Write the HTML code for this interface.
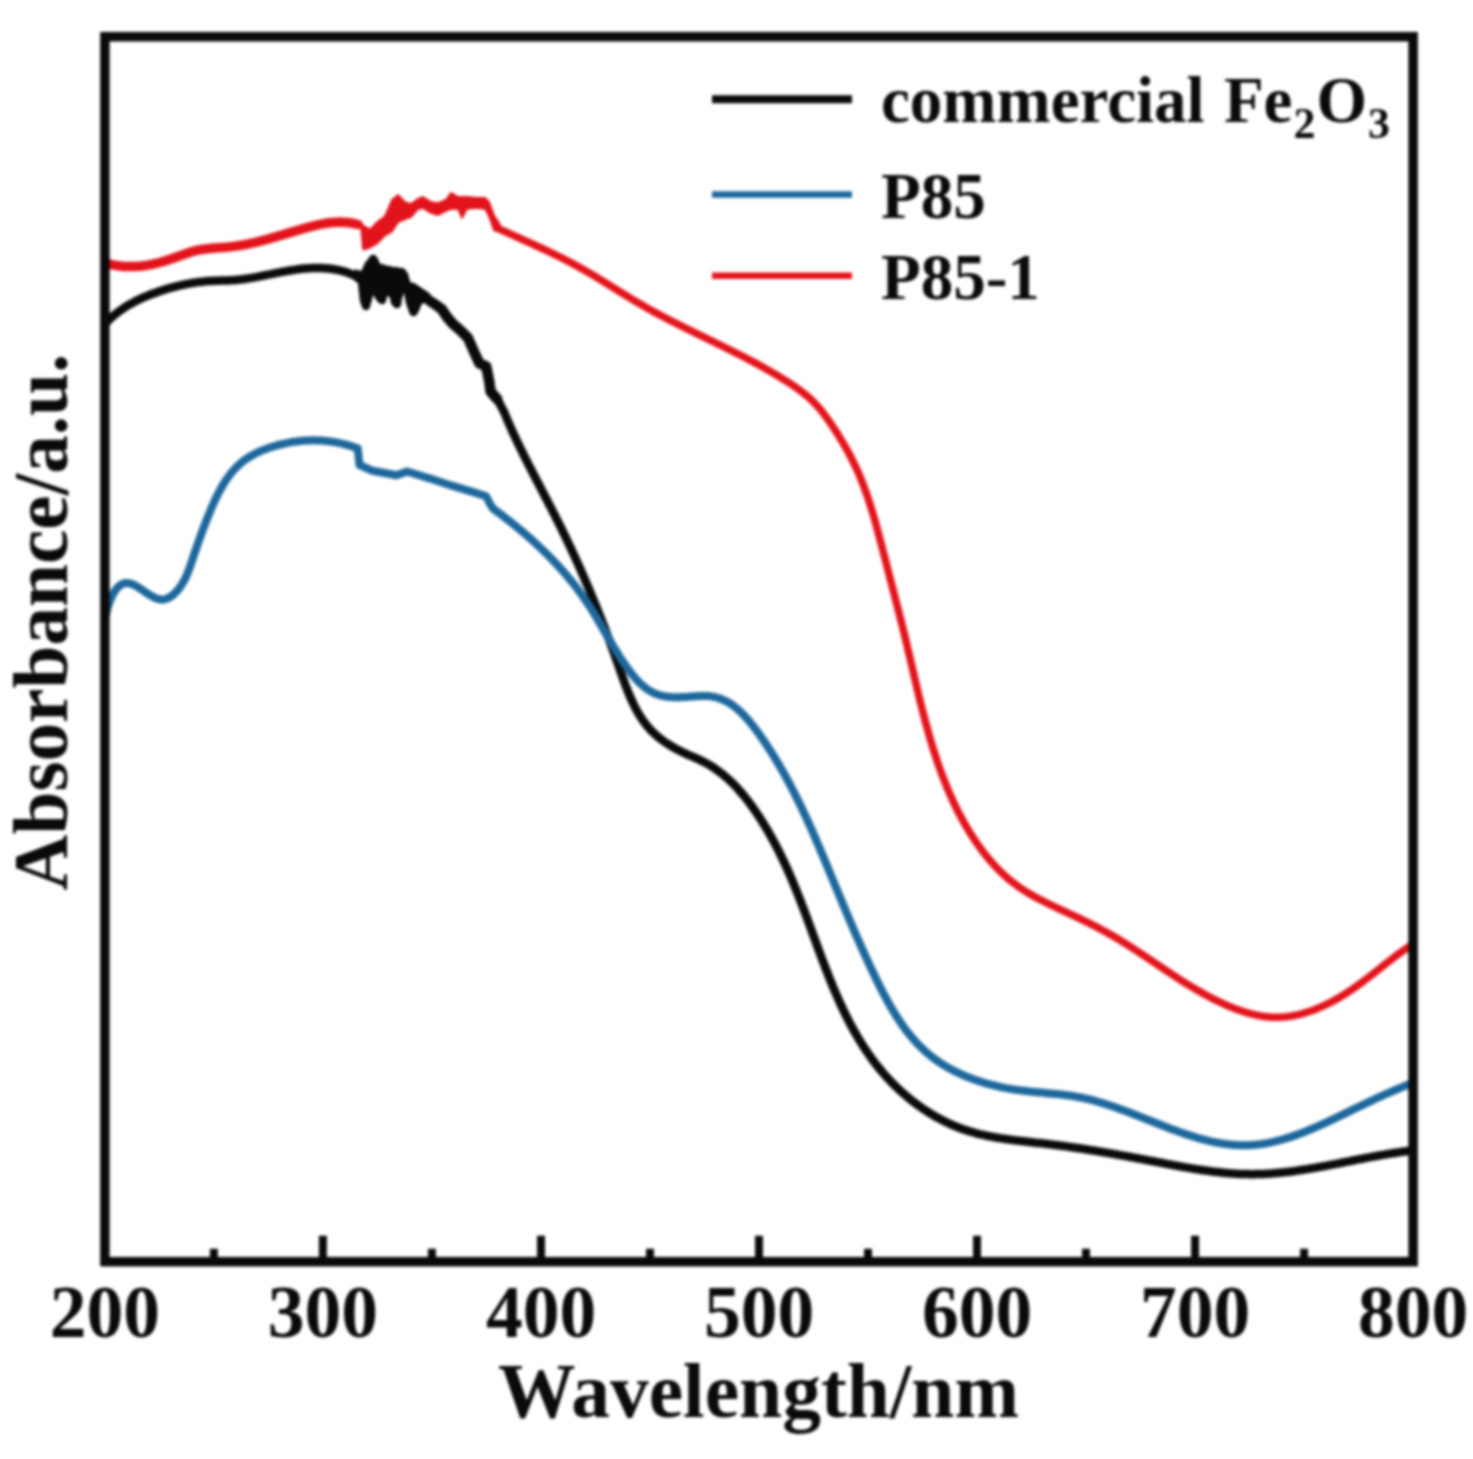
<!DOCTYPE html>
<html><head><meta charset="utf-8"><style>
html,body{margin:0;padding:0;background:#fff;overflow:hidden;}
svg{display:block;}
#w{filter:blur(1.8px);}
text,tspan{font-family:"Liberation Serif",serif;font-weight:bold;fill:#0a0a0a;}
</style></head><body><div id="w">
<svg width="1473" height="1459" viewBox="0 0 1473 1459">
<rect x="0" y="0" width="1473" height="1459" fill="#fff"/>
<g fill="none" stroke-linejoin="round" stroke-linecap="round">
<path d="M355.0,270.5L362.0,272.0L366.0,263.0L370.0,258.0L375.0,258.0L378.0,264.0L385.0,266.0L390.0,268.0L396.0,268.0L400.0,269.0L404.0,276.0L408.0,283.0L414.0,284.0L420.0,288.0L426.0,292.0L430.0,295.0L430.0,303.0L426.0,302.0L421.0,303.0L418.0,310.0L413.0,311.0L409.0,302.0L404.0,290.0L401.0,298.0L397.0,304.0L393.0,302.0L390.0,296.0L386.0,294.0L383.0,300.0L380.0,301.0L376.0,298.0L373.0,292.0L370.0,303.0L366.0,305.0L363.0,300.0L361.0,283.0L355.0,277.0Z" fill="#0a0a0a" stroke="#0a0a0a" stroke-width="2"/>
<path d="M105.5,323.5L106.9,322.0L108.3,320.5L109.8,319.1L111.3,317.7L112.8,316.4L114.3,315.0L115.9,313.8L117.5,312.5L119.1,311.3L120.7,310.1L122.4,309.0L124.0,307.9L125.7,306.8L127.5,305.7L129.2,304.7L130.9,303.7L132.7,302.7L134.5,301.8L136.3,300.8L138.1,299.9L139.9,299.1L141.8,298.2L143.6,297.4L145.5,296.6L147.4,295.8L149.3,295.0L151.2,294.3L153.1,293.6L155.0,292.9L156.9,292.2L158.8,291.5L160.7,290.9L162.7,290.2L164.6,289.6L166.6,289.0L168.5,288.4L170.5,287.9L172.4,287.3L174.4,286.8L176.3,286.3L178.3,285.8L180.3,285.4L182.3,284.9L184.3,284.5L186.2,284.1L188.2,283.7L190.2,283.4L192.2,283.0L194.2,282.7L196.2,282.4L198.2,282.1L200.2,281.9L202.2,281.7L204.2,281.5L206.2,281.3L208.2,281.1L210.2,281.0L212.2,280.9L214.2,280.8L216.2,280.7L218.2,280.7L220.2,280.6L222.2,280.6L224.2,280.5L226.2,280.5L228.2,280.4L230.2,280.3L232.2,280.2L234.2,280.1L236.2,279.9L238.2,279.7L240.2,279.5L242.2,279.3L244.2,279.0L246.1,278.7L248.1,278.4L250.1,278.1L252.1,277.8L254.1,277.4L256.1,277.1L258.1,276.7L260.0,276.3L262.0,275.9L264.0,275.5L266.0,275.1L268.0,274.7L270.0,274.3L272.0,273.9L274.0,273.5L275.9,273.1L277.9,272.7L279.9,272.3L281.9,271.9L283.9,271.5L285.9,271.2L287.9,270.8L289.9,270.5L291.9,270.2L293.9,269.9L295.9,269.6L297.9,269.3L299.9,269.0L302.0,268.8L304.0,268.6L306.0,268.4L308.0,268.3L310.0,268.2L312.1,268.1L314.1,268.0L316.1,268.0L318.1,268.0L320.1,268.0L322.2,268.1L324.2,268.2L326.2,268.3L328.2,268.5L330.1,268.7L332.1,269.0L334.1,269.3L336.0,269.6L337.9,270.0L339.8,270.4L341.7,270.8L343.6,271.3L345.5,271.9L347.3,272.5L349.1,273.2L350.8,273.9L352.6,274.7L354.3,275.5L354.3,275.0L358.0,278.0L362.0,281.0L364.0,300.0L366.0,306.0L368.0,296.0L371.0,270.0L373.0,259.0L375.0,262.0L377.0,285.0L380.0,298.0L382.0,300.0L384.0,290.0L386.0,272.0L389.0,270.0L392.0,285.0L395.0,302.0L397.0,304.0L399.0,290.0L401.5,272.0L404.0,275.0L407.0,286.0L410.0,302.0L413.5,312.0L416.0,307.0L419.0,293.0L424.0,295.0L430.0,301.0L436.0,305.0L441.6,309.0L447.0,317.0L453.0,324.0L460.0,330.0L468.0,338.0L473.7,351.0L479.5,363.5L486.2,366.3L489.1,380.7L490.6,391.5L497.3,399.2L504.0,411.7L504.0,411.7L504.7,413.5L505.5,415.4L506.3,417.2L507.0,419.0L507.8,420.9L508.6,422.7L509.4,424.5L510.2,426.4L511.0,428.2L511.8,430.0L512.6,431.8L513.5,433.6L514.3,435.5L515.2,437.3L516.0,439.1L516.9,440.9L517.7,442.7L518.6,444.5L519.5,446.3L520.3,448.1L521.2,449.9L522.1,451.7L523.0,453.5L523.9,455.3L524.8,457.1L525.7,458.9L526.6,460.7L527.5,462.5L528.4,464.3L529.3,466.1L530.3,467.9L531.2,469.7L532.1,471.5L533.0,473.3L533.9,475.1L534.9,476.9L535.8,478.7L536.7,480.4L537.7,482.2L538.6,484.0L539.5,485.8L540.5,487.6L541.4,489.4L542.3,491.2L543.2,492.9L544.2,494.7L545.1,496.5L546.0,498.3L547.0,500.1L547.9,501.9L548.8,503.7L549.7,505.4L550.7,507.2L551.6,509.0L552.5,510.8L553.4,512.6L554.3,514.4L555.2,516.2L556.1,518.0L557.0,519.7L557.9,521.5L558.8,523.3L559.7,525.1L560.6,526.9L561.5,528.7L562.3,530.5L563.2,532.3L564.1,534.1L565.0,535.9L565.8,537.7L566.7,539.5L567.5,541.3L568.4,543.1L569.2,544.9L570.1,546.7L570.9,548.5L571.8,550.3L572.6,552.1L573.4,553.9L574.3,555.7L575.1,557.5L575.9,559.3L576.7,561.1L577.6,562.9L578.4,564.7L579.2,566.5L580.0,568.3L580.8,570.2L581.6,572.0L582.4,573.8L583.2,575.6L584.0,577.4L584.8,579.3L585.6,581.1L586.3,582.9L587.1,584.7L587.9,586.6L588.7,588.4L589.5,590.2L590.2,592.1L591.0,593.9L591.8,595.8L592.5,597.6L593.3,599.4L594.0,601.3L594.8,603.1L595.5,605.0L596.3,606.8L597.0,608.7L597.8,610.5L598.5,612.4L599.3,614.3L600.0,616.1L600.7,618.0L601.5,619.8L602.2,621.7L602.9,623.6L603.7,625.5L604.4,627.3L605.1,629.2L605.8,631.1L606.5,633.0L607.2,634.9L608.0,636.7L608.7,638.6L609.4,640.5L610.1,642.4L610.8,644.3L611.5,646.2L612.2,648.1L612.9,650.0L613.6,651.9L614.3,653.8L615.0,655.8L615.6,657.7L616.3,659.6L617.0,661.5L617.7,663.4L618.4,665.4L619.1,667.3L619.8,669.2L620.4,671.2L621.1,673.1L621.8,675.0L622.5,677.0L623.2,678.9L623.9,680.8L624.6,682.8L625.3,684.7L626.0,686.6L626.8,688.5L627.5,690.4L628.3,692.3L629.0,694.1L629.8,696.0L630.6,697.8L631.4,699.7L632.3,701.5L633.1,703.3L634.0,705.1L634.9,706.9L635.8,708.6L636.7,710.4L637.7,712.1L638.7,713.8L639.7,715.5L640.8,717.1L641.8,718.8L642.9,720.4L644.1,722.0L645.2,723.5L646.4,725.0L647.6,726.5L648.9,728.0L650.2,729.5L651.5,730.9L652.9,732.2L654.3,733.6L655.8,734.9L657.3,736.2L658.8,737.5L660.3,738.7L661.9,739.9L663.5,741.1L665.1,742.2L666.8,743.3L668.5,744.4L670.2,745.5L671.9,746.5L673.6,747.5L675.4,748.5L677.2,749.5L679.0,750.4L680.8,751.3L682.6,752.2L684.5,753.1L686.3,753.9L688.2,754.8L690.1,755.6L692.0,756.4L693.8,757.2L695.7,758.1L697.6,758.9L699.4,759.7L701.2,760.6L703.0,761.5L704.8,762.4L706.6,763.4L708.3,764.4L710.0,765.4L711.7,766.4L713.4,767.5L715.0,768.6L716.6,769.8L718.2,770.9L719.8,772.1L721.4,773.3L722.9,774.5L724.4,775.8L725.9,777.1L727.4,778.4L728.9,779.7L730.3,781.1L731.7,782.4L733.2,783.8L734.5,785.2L735.9,786.7L737.3,788.1L738.6,789.6L739.9,791.1L741.2,792.6L742.5,794.1L743.8,795.6L745.0,797.1L746.3,798.7L747.5,800.3L748.7,801.9L749.9,803.5L751.1,805.1L752.3,806.7L753.4,808.3L754.6,810.0L755.7,811.6L756.8,813.3L757.9,814.9L759.0,816.6L760.1,818.3L761.2,820.0L762.2,821.7L763.3,823.4L764.3,825.1L765.4,826.8L766.4,828.5L767.4,830.2L768.4,831.9L769.4,833.7L770.4,835.4L771.3,837.1L772.3,838.9L773.3,840.6L774.2,842.4L775.1,844.1L776.1,845.9L777.0,847.7L777.9,849.4L778.8,851.2L779.7,853.0L780.6,854.8L781.4,856.6L782.3,858.4L783.2,860.2L784.0,862.0L784.9,863.8L785.7,865.6L786.5,867.4L787.4,869.3L788.2,871.1L789.0,872.9L789.8,874.8L790.6,876.6L791.4,878.4L792.2,880.3L792.9,882.1L793.7,884.0L794.5,885.9L795.2,887.7L796.0,889.6L796.8,891.5L797.5,893.3L798.3,895.2L799.0,897.1L799.7,899.0L800.5,900.8L801.2,902.7L801.9,904.6L802.6,906.5L803.4,908.4L804.1,910.3L804.8,912.2L805.5,914.1L806.2,916.0L806.9,917.8L807.6,919.7L808.3,921.6L809.0,923.5L809.7,925.4L810.4,927.3L811.1,929.2L811.8,931.2L812.5,933.1L813.2,935.0L813.9,936.9L814.6,938.8L815.3,940.7L816.0,942.6L816.7,944.5L817.4,946.4L818.1,948.3L818.8,950.2L819.5,952.1L820.2,954.0L820.9,955.8L821.6,957.7L822.3,959.6L823.0,961.5L823.8,963.4L824.5,965.3L825.2,967.2L825.9,969.1L826.7,970.9L827.4,972.8L828.1,974.7L828.9,976.6L829.6,978.4L830.4,980.3L831.1,982.2L831.9,984.0L832.6,985.9L833.4,987.7L834.2,989.6L835.0,991.4L835.8,993.3L836.6,995.1L837.4,996.9L838.2,998.8L839.0,1000.6L839.8,1002.4L840.6,1004.2L841.5,1006.0L842.3,1007.8L843.1,1009.6L844.0,1011.4L844.9,1013.2L845.7,1015.0L846.6,1016.8L847.5,1018.5L848.4,1020.3L849.3,1022.1L850.2,1023.8L851.2,1025.6L852.1,1027.3L853.1,1029.0L854.0,1030.8L855.0,1032.5L856.0,1034.2L857.0,1035.9L858.0,1037.6L859.0,1039.3L860.0,1041.0L861.0,1042.7L862.1,1044.3L863.1,1046.0L864.2,1047.7L865.3,1049.3L866.4,1051.0L867.5,1052.6L868.6,1054.2L869.7,1055.8L870.9,1057.4L872.0,1059.0L873.2,1060.6L874.4,1062.2L875.6,1063.8L876.8,1065.3L878.0,1066.9L879.3,1068.4L880.6,1069.9L881.8,1071.5L883.1,1073.0L884.4,1074.5L885.7,1076.0L887.1,1077.4L888.4,1078.9L889.8,1080.4L891.2,1081.8L892.6,1083.3L894.0,1084.7L895.4,1086.1L896.9,1087.5L898.4,1088.9L899.8,1090.3L901.3,1091.6L902.8,1093.0L904.4,1094.3L905.9,1095.6L907.5,1097.0L909.0,1098.3L910.6,1099.5L912.2,1100.8L913.8,1102.0L915.4,1103.3L917.1,1104.5L918.7,1105.7L920.4,1106.9L922.0,1108.0L923.7,1109.2L925.4,1110.3L927.1,1111.4L928.8,1112.5L930.6,1113.6L932.3,1114.6L934.0,1115.7L935.8,1116.7L937.6,1117.7L939.3,1118.6L941.1,1119.6L942.9,1120.5L944.7,1121.4L946.5,1122.3L948.3,1123.2L950.2,1124.0L952.0,1124.8L953.9,1125.6L955.7,1126.4L957.6,1127.1L959.4,1127.9L961.3,1128.6L963.2,1129.2L965.1,1129.9L967.0,1130.5L968.9,1131.1L970.8,1131.7L972.7,1132.2L974.6,1132.8L976.5,1133.3L978.5,1133.8L980.4,1134.3L982.3,1134.7L984.3,1135.2L986.2,1135.6L988.2,1136.0L990.1,1136.4L992.1,1136.8L994.0,1137.1L996.0,1137.5L998.0,1137.8L999.9,1138.1L1001.9,1138.4L1003.9,1138.8L1005.9,1139.0L1007.9,1139.3L1009.8,1139.6L1011.8,1139.9L1013.8,1140.1L1015.8,1140.4L1017.8,1140.6L1019.8,1140.9L1021.8,1141.1L1023.8,1141.3L1025.8,1141.6L1027.8,1141.8L1029.8,1142.0L1031.8,1142.2L1033.8,1142.5L1035.8,1142.7L1037.8,1142.9L1039.8,1143.1L1041.8,1143.3L1043.8,1143.6L1045.8,1143.8L1047.8,1144.0L1049.8,1144.3L1051.7,1144.5L1053.7,1144.8L1055.7,1145.0L1057.7,1145.3L1059.7,1145.5L1061.7,1145.8L1063.7,1146.1L1065.6,1146.3L1067.6,1146.6L1069.6,1146.9L1071.6,1147.2L1073.6,1147.5L1075.6,1147.7L1077.5,1148.0L1079.5,1148.3L1081.5,1148.6L1083.5,1148.9L1085.4,1149.2L1087.4,1149.5L1089.4,1149.9L1091.4,1150.2L1093.3,1150.5L1095.3,1150.8L1097.3,1151.1L1099.2,1151.5L1101.2,1151.8L1103.2,1152.1L1105.1,1152.5L1107.1,1152.8L1109.1,1153.1L1111.1,1153.5L1113.0,1153.8L1115.0,1154.2L1117.0,1154.5L1118.9,1154.9L1120.9,1155.2L1122.9,1155.6L1124.8,1155.9L1126.8,1156.3L1128.8,1156.6L1130.7,1157.0L1132.7,1157.4L1134.7,1157.7L1136.6,1158.1L1138.6,1158.5L1140.6,1158.9L1142.6,1159.2L1144.5,1159.6L1146.5,1160.0L1148.5,1160.4L1150.4,1160.7L1152.4,1161.1L1154.4,1161.5L1156.4,1161.9L1158.3,1162.3L1160.3,1162.6L1162.3,1163.0L1164.2,1163.4L1166.2,1163.8L1168.2,1164.2L1170.2,1164.5L1172.1,1164.9L1174.1,1165.3L1176.1,1165.6L1178.1,1166.0L1180.1,1166.4L1182.0,1166.7L1184.0,1167.1L1186.0,1167.4L1188.0,1167.8L1190.0,1168.1L1191.9,1168.4L1193.9,1168.8L1195.9,1169.1L1197.9,1169.4L1199.9,1169.7L1201.8,1170.0L1203.8,1170.3L1205.8,1170.6L1207.8,1170.8L1209.8,1171.1L1211.7,1171.4L1213.7,1171.6L1215.7,1171.9L1217.7,1172.1L1219.7,1172.3L1221.7,1172.5L1223.7,1172.7L1225.6,1172.9L1227.6,1173.1L1229.6,1173.2L1231.6,1173.4L1233.6,1173.5L1235.6,1173.7L1237.6,1173.8L1239.5,1173.9L1241.5,1174.0L1243.5,1174.0L1245.5,1174.1L1247.5,1174.1L1249.5,1174.2L1251.5,1174.2L1253.5,1174.2L1255.5,1174.1L1257.4,1174.1L1259.4,1174.1L1261.4,1174.0L1263.4,1173.9L1265.4,1173.8L1267.4,1173.7L1269.4,1173.6L1271.4,1173.4L1273.4,1173.3L1275.4,1173.1L1277.3,1173.0L1279.3,1172.8L1281.3,1172.6L1283.3,1172.4L1285.3,1172.1L1287.3,1171.9L1289.3,1171.7L1291.3,1171.4L1293.3,1171.2L1295.3,1170.9L1297.3,1170.6L1299.2,1170.3L1301.2,1170.0L1303.2,1169.7L1305.2,1169.4L1307.2,1169.1L1309.2,1168.8L1311.2,1168.4L1313.2,1168.1L1315.2,1167.8L1317.1,1167.4L1319.1,1167.0L1321.1,1166.7L1323.1,1166.3L1325.1,1166.0L1327.1,1165.6L1329.1,1165.2L1331.1,1164.8L1333.0,1164.4L1335.0,1164.1L1337.0,1163.7L1339.0,1163.3L1341.0,1162.9L1343.0,1162.5L1344.9,1162.1L1346.9,1161.7L1348.9,1161.3L1350.9,1160.9L1352.9,1160.5L1354.8,1160.1L1356.8,1159.7L1358.8,1159.3L1360.8,1159.0L1362.8,1158.6L1364.7,1158.2L1366.7,1157.8L1368.7,1157.4L1370.7,1157.1L1372.6,1156.7L1374.6,1156.3L1376.6,1156.0L1378.6,1155.6L1380.5,1155.2L1382.5,1154.9L1384.5,1154.6L1386.4,1154.2L1388.4,1153.9L1390.4,1153.6L1392.3,1153.3L1394.3,1153.0L1396.3,1152.7L1398.2,1152.4L1400.2,1152.1L1402.2,1151.8L1404.1,1151.5L1406.1,1151.3L1408.0,1151.0L1410.0,1150.8" stroke="#0a0a0a" stroke-width="8.5"/>
<path d="M430.0,301.0L436.0,305.0L441.6,309.0L447.0,317.0L453.0,324.0L460.0,330.0L468.0,338.0L473.7,351.0L479.5,363.5L486.2,366.3L489.1,380.7L490.6,391.5L497.3,399.2" stroke="#0a0a0a" stroke-width="10.5"/>
<path d="M106.0,614.6L106.4,612.9L106.8,611.1L107.3,609.2L107.9,607.2L108.5,605.1L109.2,603.0L110.0,600.9L110.9,598.7L111.8,596.7L112.8,594.6L113.9,592.7L115.0,590.9L116.2,589.2L117.5,587.7L118.8,586.3L120.2,585.2L121.7,584.3L123.2,583.6L124.7,583.2L126.3,583.0L128.0,583.1L129.6,583.4L131.3,583.9L133.1,584.5L134.8,585.4L136.6,586.3L138.4,587.4L140.2,588.6L142.0,589.8L143.8,591.0L145.6,592.3L147.4,593.5L149.3,594.7L151.1,595.8L152.9,596.8L154.7,597.7L156.6,598.4L158.3,599.0L160.1,599.4L161.9,599.5L163.7,599.4L165.4,599.1L167.1,598.5L168.7,597.8L170.4,596.8L172.0,595.7L173.5,594.4L175.0,593.0L176.5,591.5L177.9,589.9L179.3,588.2L180.5,586.4L181.8,584.5L182.9,582.6L184.0,580.7L185.0,578.8L186.0,576.9L186.8,575.0L187.6,573.1L188.4,571.1L189.1,569.2L189.8,567.3L190.5,565.4L191.1,563.5L191.8,561.6L192.4,559.7L193.0,557.8L193.6,555.9L194.3,554.0L194.9,552.2L195.6,550.3L196.2,548.4L196.9,546.5L197.5,544.6L198.2,542.7L198.8,540.9L199.5,539.0L200.2,537.1L200.9,535.3L201.6,533.4L202.2,531.5L202.9,529.6L203.6,527.8L204.4,525.9L205.1,524.0L205.8,522.1L206.5,520.2L207.3,518.4L208.0,516.5L208.8,514.6L209.6,512.7L210.3,510.8L211.1,508.9L211.9,507.0L212.8,505.2L213.6,503.3L214.4,501.4L215.3,499.5L216.2,497.7L217.1,495.9L218.0,494.0L218.9,492.2L219.9,490.4L220.8,488.6L221.8,486.9L222.9,485.1L223.9,483.4L225.0,481.7L226.1,480.0L227.2,478.4L228.4,476.7L229.6,475.1L230.8,473.6L232.1,472.0L233.4,470.5L234.7,469.0L236.1,467.6L237.5,466.2L238.9,464.8L240.4,463.5L241.9,462.2L243.4,461.0L245.0,459.8L246.7,458.7L248.3,457.6L250.1,456.5L251.8,455.5L253.6,454.5L255.4,453.5L257.2,452.6L259.1,451.8L260.9,450.9L262.8,450.1L264.7,449.4L266.7,448.7L268.6,448.0L270.6,447.3L272.5,446.7L274.5,446.1L276.5,445.5L278.5,445.0L280.5,444.5L282.5,444.0L284.5,443.6L286.5,443.1L288.4,442.7L290.4,442.4L292.4,442.0L294.4,441.7L296.4,441.5L298.4,441.2L300.4,441.0L302.3,440.8L304.3,440.7L306.3,440.5L308.3,440.4L310.3,440.4L312.2,440.3L314.2,440.3L316.2,440.4L318.2,440.4L320.2,440.5L322.1,440.6L324.1,440.8L326.1,441.0L328.1,441.2L330.1,441.4L332.0,441.7L334.0,442.0L336.0,442.4L338.0,442.8L339.9,443.2L341.9,443.6L343.9,444.1L345.9,444.6L347.8,445.2L349.8,445.7L351.8,446.4L353.8,447.0L355.7,447.7L357.7,448.4L357.7,448.4L359.5,465.0L372.6,470.8L396.5,475.3L407.0,471.5L429.4,478.3L451.8,485.7L474.2,492.4L486.1,496.2L489.5,503.0L493.0,508.6L493.0,508.6L494.6,509.8L496.2,511.0L497.8,512.1L499.4,513.3L501.0,514.5L502.6,515.7L504.2,516.9L505.7,518.2L507.3,519.4L508.9,520.6L510.5,521.9L512.0,523.1L513.6,524.4L515.2,525.6L516.7,526.9L518.3,528.2L519.8,529.5L521.3,530.8L522.9,532.0L524.4,533.4L525.9,534.7L527.4,536.0L528.9,537.3L530.5,538.6L531.9,540.0L533.4,541.3L534.9,542.7L536.4,544.0L537.9,545.4L539.3,546.8L540.8,548.2L542.3,549.6L543.7,551.0L545.1,552.4L546.6,553.8L548.0,555.2L549.4,556.6L550.8,558.1L552.2,559.5L553.6,560.9L555.0,562.4L556.3,563.9L557.7,565.3L559.1,566.8L560.4,568.3L561.7,569.8L563.1,571.3L564.4,572.8L565.7,574.3L567.0,575.8L568.3,577.4L569.5,578.9L570.8,580.4L572.1,582.0L573.3,583.6L574.5,585.1L575.8,586.7L577.0,588.3L578.2,589.9L579.4,591.5L580.5,593.1L581.7,594.7L582.8,596.3L584.0,597.9L585.1,599.6L586.2,601.2L587.3,602.9L588.4,604.5L589.5,606.2L590.6,607.9L591.6,609.5L592.7,611.2L593.7,612.9L594.8,614.6L595.8,616.3L596.8,618.0L597.8,619.7L598.8,621.5L599.8,623.2L600.8,624.9L601.8,626.6L602.8,628.4L603.8,630.1L604.8,631.8L605.8,633.6L606.8,635.3L607.8,637.0L608.8,638.8L609.9,640.5L610.9,642.2L611.9,644.0L612.9,645.7L614.0,647.5L615.0,649.2L616.1,650.9L617.2,652.7L618.2,654.4L619.3,656.1L620.4,657.8L621.6,659.6L622.7,661.3L623.9,663.0L625.0,664.7L626.2,666.4L627.4,668.1L628.6,669.8L629.9,671.4L631.1,673.1L632.4,674.7L633.7,676.3L635.1,677.9L636.4,679.4L637.8,680.9L639.2,682.4L640.7,683.8L642.1,685.1L643.6,686.4L645.1,687.6L646.7,688.8L648.3,689.9L649.9,690.9L651.6,691.9L653.3,692.8L655.0,693.5L656.8,694.2L658.6,694.8L660.4,695.4L662.3,695.8L664.2,696.2L666.1,696.5L668.0,696.8L670.0,696.9L672.0,697.1L674.0,697.2L676.1,697.2L678.1,697.2L680.2,697.2L682.2,697.1L684.3,697.0L686.4,696.9L688.5,696.8L690.6,696.6L692.7,696.5L694.8,696.3L696.9,696.2L699.0,696.1L701.0,696.0L703.1,695.9L705.1,695.9L707.1,696.0L709.0,696.1L711.0,696.4L712.9,696.7L714.7,697.0L716.6,697.5L718.4,698.0L720.2,698.6L721.9,699.3L723.6,700.1L725.3,700.9L727.0,701.7L728.6,702.7L730.2,703.7L731.8,704.7L733.3,705.8L734.8,707.0L736.3,708.2L737.8,709.4L739.3,710.7L740.7,712.1L742.1,713.4L743.5,714.9L744.9,716.3L746.2,717.8L747.6,719.3L748.9,720.8L750.2,722.4L751.5,724.0L752.7,725.6L754.0,727.2L755.2,728.8L756.5,730.5L757.7,732.1L758.9,733.8L760.1,735.5L761.2,737.2L762.4,738.8L763.6,740.5L764.7,742.2L765.9,743.9L767.0,745.6L768.1,747.3L769.2,749.0L770.3,750.7L771.4,752.4L772.5,754.2L773.6,755.9L774.6,757.6L775.7,759.3L776.7,761.1L777.8,762.8L778.8,764.6L779.8,766.3L780.8,768.0L781.9,769.8L782.8,771.5L783.8,773.3L784.8,775.1L785.8,776.8L786.8,778.6L787.7,780.4L788.7,782.1L789.6,783.9L790.6,785.7L791.5,787.5L792.4,789.3L793.3,791.0L794.2,792.8L795.1,794.6L796.0,796.4L796.9,798.2L797.8,800.0L798.7,801.8L799.6,803.6L800.5,805.4L801.3,807.2L802.2,809.0L803.0,810.8L803.9,812.7L804.7,814.5L805.6,816.3L806.4,818.1L807.2,819.9L808.1,821.7L808.9,823.6L809.7,825.4L810.5,827.2L811.3,829.0L812.2,830.9L813.0,832.7L813.8,834.5L814.6,836.4L815.4,838.2L816.1,840.0L816.9,841.9L817.7,843.7L818.5,845.5L819.3,847.4L820.1,849.2L820.8,851.1L821.6,852.9L822.4,854.7L823.2,856.6L823.9,858.4L824.7,860.3L825.5,862.1L826.2,863.9L827.0,865.8L827.8,867.6L828.5,869.5L829.3,871.3L830.0,873.2L830.8,875.0L831.6,876.8L832.3,878.7L833.1,880.5L833.9,882.4L834.6,884.2L835.4,886.0L836.1,887.9L836.9,889.7L837.7,891.6L838.4,893.4L839.2,895.2L840.0,897.1L840.7,898.9L841.5,900.8L842.3,902.6L843.0,904.4L843.8,906.3L844.6,908.1L845.3,909.9L846.1,911.8L846.9,913.6L847.7,915.5L848.4,917.3L849.2,919.1L850.0,921.0L850.8,922.8L851.6,924.6L852.4,926.5L853.1,928.3L853.9,930.1L854.7,932.0L855.5,933.8L856.3,935.6L857.1,937.5L857.9,939.3L858.8,941.1L859.6,943.0L860.4,944.8L861.2,946.7L862.0,948.5L862.8,950.3L863.7,952.2L864.5,954.0L865.3,955.8L866.2,957.7L867.0,959.5L867.8,961.3L868.7,963.2L869.5,965.0L870.4,966.8L871.3,968.7L872.1,970.5L873.0,972.3L873.9,974.2L874.7,976.0L875.6,977.8L876.5,979.7L877.4,981.5L878.3,983.3L879.2,985.2L880.1,987.0L881.0,988.8L882.0,990.6L882.9,992.4L883.8,994.2L884.8,996.0L885.8,997.8L886.7,999.6L887.7,1001.4L888.7,1003.2L889.7,1004.9L890.7,1006.7L891.7,1008.4L892.7,1010.2L893.8,1011.9L894.8,1013.6L895.9,1015.3L897.0,1017.0L898.1,1018.7L899.2,1020.4L900.3,1022.1L901.4,1023.7L902.6,1025.3L903.7,1027.0L904.9,1028.6L906.1,1030.2L907.3,1031.7L908.5,1033.3L909.8,1034.8L911.0,1036.4L912.3,1037.9L913.6,1039.4L914.9,1040.8L916.2,1042.3L917.5,1043.7L918.9,1045.2L920.3,1046.6L921.7,1047.9L923.1,1049.3L924.5,1050.6L926.0,1051.9L927.5,1053.2L929.0,1054.5L930.5,1055.7L932.0,1057.0L933.6,1058.2L935.2,1059.3L936.8,1060.5L938.4,1061.6L940.1,1062.7L941.7,1063.8L943.4,1064.9L945.1,1065.9L946.8,1066.9L948.6,1067.9L950.3,1068.9L952.1,1069.8L953.9,1070.8L955.7,1071.7L957.5,1072.5L959.3,1073.4L961.1,1074.2L963.0,1075.1L964.8,1075.9L966.7,1076.6L968.6,1077.4L970.5,1078.1L972.4,1078.9L974.3,1079.5L976.3,1080.2L978.2,1080.9L980.1,1081.5L982.1,1082.1L984.0,1082.7L986.0,1083.3L988.0,1083.9L989.9,1084.4L991.9,1084.9L993.9,1085.4L995.9,1085.9L997.9,1086.4L999.9,1086.8L1001.9,1087.3L1003.8,1087.7L1005.8,1088.1L1007.8,1088.4L1009.8,1088.8L1011.8,1089.1L1013.8,1089.5L1015.8,1089.8L1017.8,1090.1L1019.8,1090.3L1021.8,1090.6L1023.8,1090.8L1025.8,1091.1L1027.8,1091.3L1029.7,1091.5L1031.7,1091.7L1033.7,1091.9L1035.7,1092.1L1037.7,1092.3L1039.6,1092.5L1041.6,1092.6L1043.6,1092.8L1045.5,1093.0L1047.5,1093.2L1049.5,1093.4L1051.4,1093.5L1053.4,1093.7L1055.3,1093.9L1057.3,1094.1L1059.2,1094.3L1061.2,1094.5L1063.2,1094.8L1065.1,1095.0L1067.0,1095.3L1069.0,1095.5L1070.9,1095.8L1072.9,1096.1L1074.8,1096.4L1076.8,1096.8L1078.7,1097.1L1080.6,1097.5L1082.6,1097.9L1084.5,1098.3L1086.4,1098.7L1088.4,1099.2L1090.3,1099.7L1092.2,1100.2L1094.2,1100.7L1096.1,1101.2L1098.0,1101.8L1099.9,1102.3L1101.9,1102.9L1103.8,1103.5L1105.7,1104.1L1107.6,1104.7L1109.5,1105.3L1111.4,1106.0L1113.4,1106.6L1115.3,1107.3L1117.2,1108.0L1119.1,1108.7L1121.0,1109.4L1122.9,1110.1L1124.8,1110.8L1126.8,1111.5L1128.7,1112.2L1130.6,1112.9L1132.5,1113.7L1134.4,1114.4L1136.3,1115.2L1138.2,1115.9L1140.1,1116.7L1142.0,1117.4L1143.9,1118.2L1145.8,1119.0L1147.7,1119.7L1149.6,1120.5L1151.5,1121.2L1153.5,1122.0L1155.4,1122.8L1157.3,1123.5L1159.2,1124.3L1161.1,1125.0L1163.0,1125.8L1164.9,1126.5L1166.8,1127.2L1168.7,1128.0L1170.6,1128.7L1172.5,1129.4L1174.4,1130.1L1176.3,1130.8L1178.2,1131.5L1180.1,1132.2L1182.0,1132.8L1183.9,1133.5L1185.8,1134.2L1187.8,1134.8L1189.7,1135.4L1191.6,1136.0L1193.5,1136.6L1195.4,1137.2L1197.3,1137.8L1199.2,1138.3L1201.1,1138.9L1203.0,1139.4L1204.9,1139.9L1206.9,1140.4L1208.8,1140.8L1210.7,1141.3L1212.6,1141.7L1214.5,1142.1L1216.4,1142.5L1218.4,1142.8L1220.3,1143.2L1222.2,1143.5L1224.1,1143.8L1226.1,1144.1L1228.0,1144.3L1229.9,1144.5L1231.8,1144.7L1233.8,1144.9L1235.7,1145.0L1237.6,1145.1L1239.6,1145.2L1241.5,1145.3L1243.4,1145.3L1245.4,1145.3L1247.3,1145.3L1249.3,1145.2L1251.2,1145.1L1253.2,1145.0L1255.1,1144.8L1257.0,1144.6L1259.0,1144.4L1260.9,1144.1L1262.9,1143.8L1264.9,1143.5L1266.8,1143.2L1268.8,1142.8L1270.7,1142.4L1272.7,1142.0L1274.6,1141.5L1276.6,1141.0L1278.5,1140.5L1280.5,1140.0L1282.4,1139.5L1284.4,1138.9L1286.3,1138.3L1288.3,1137.7L1290.2,1137.1L1292.2,1136.4L1294.1,1135.7L1296.0,1135.1L1298.0,1134.4L1299.9,1133.6L1301.8,1132.9L1303.8,1132.2L1305.7,1131.4L1307.6,1130.6L1309.5,1129.8L1311.5,1129.0L1313.4,1128.2L1315.3,1127.4L1317.2,1126.6L1319.1,1125.7L1321.0,1124.9L1322.9,1124.0L1324.8,1123.2L1326.6,1122.3L1328.5,1121.4L1330.4,1120.5L1332.2,1119.7L1334.1,1118.8L1336.0,1117.9L1337.8,1117.0L1339.6,1116.1L1341.5,1115.2L1343.3,1114.3L1345.1,1113.4L1346.9,1112.6L1348.8,1111.7L1350.6,1110.8L1352.3,1109.9L1354.1,1109.0L1355.9,1108.2L1357.7,1107.3L1359.4,1106.5L1361.2,1105.6L1362.9,1104.8L1364.7,1103.9L1366.4,1103.1L1368.1,1102.3L1369.9,1101.5L1371.6,1100.6L1373.4,1099.8L1375.1,1099.0L1376.8,1098.2L1378.6,1097.4L1380.3,1096.6L1382.1,1095.8L1383.8,1095.0L1385.6,1094.2L1387.4,1093.4L1389.2,1092.7L1391.0,1091.9L1392.8,1091.1L1394.7,1090.3L1396.5,1089.5L1398.4,1088.7L1400.3,1087.9L1402.2,1087.1L1404.1,1086.3L1406.0,1085.5L1408.0,1084.7L1410.0,1083.9" stroke="#1d679c" stroke-width="8"/>
<path d="M358.0,222.0L361.0,222.0L363.0,225.3L370.0,229.4L377.0,222.2L385.0,216.1L392.0,199.8L398.0,194.7L405.0,201.9L411.0,203.9L418.0,198.8L423.0,196.8L431.0,201.9L438.0,202.9L446.0,199.8L451.0,192.7L458.0,196.8L462.0,196.8L467.0,196.8L477.0,197.8L485.0,197.8L489.0,201.5L494.0,215.1L500.0,224.3L500.0,231.5L494.0,230.5L489.0,216.5L485.0,209.0L477.0,208.0L467.0,209.0L462.0,218.2L458.0,209.0L451.0,209.0L446.0,211.1L438.0,215.2L431.0,213.1L423.0,208.0L418.0,209.0L411.0,217.2L405.0,219.2L398.0,222.3L392.0,231.5L385.0,235.5L377.0,243.7L370.0,247.7L363.0,249.8L361.0,227.5L358.0,227.0Z" fill="#e3131b" stroke="#e3131b" stroke-width="1.5"/>
<path d="M497.0,228.0L498.8,228.8L500.6,229.7L502.4,230.5L504.3,231.3L506.1,232.1L507.9,232.9L509.7,233.8L511.6,234.6L513.4,235.4L515.2,236.2L517.0,237.0L518.9,237.9L520.7,238.7L522.5,239.5L524.3,240.3L526.2,241.2L528.0,242.0L529.8,242.8L531.7,243.6L533.5,244.5L535.3,245.3L537.1,246.2L539.0,247.0L540.8,247.8L542.6,248.7L544.4,249.5L546.2,250.4L548.0,251.3L549.9,252.1L551.7,253.0L553.5,253.9L555.3,254.8L557.1,255.6L558.9,256.5L560.7,257.4L562.5,258.3L564.3,259.2L566.0,260.2L567.8,261.1L569.6,262.0L571.4,262.9L573.1,263.9L574.9,264.8L576.7,265.8L578.4,266.8L580.2,267.7L581.9,268.7L583.7,269.7L585.4,270.7L587.1,271.7L588.9,272.7L590.6,273.8L592.3,274.8L594.0,275.8L595.7,276.8L597.5,277.9L599.2,278.9L600.9,280.0L602.6,281.0L604.3,282.1L606.0,283.1L607.7,284.2L609.4,285.2L611.1,286.3L612.8,287.3L614.5,288.4L616.2,289.4L617.9,290.5L619.6,291.6L621.3,292.6L623.0,293.7L624.7,294.7L626.4,295.8L628.1,296.8L629.9,297.8L631.6,298.9L633.3,299.9L635.0,300.9L636.7,302.0L638.4,303.0L640.2,304.0L641.9,305.0L643.6,306.0L645.4,307.0L647.1,308.0L648.8,309.0L650.6,309.9L652.3,310.9L654.1,311.9L655.9,312.8L657.6,313.8L659.4,314.7L661.1,315.7L662.9,316.6L664.7,317.5L666.5,318.5L668.2,319.4L670.0,320.3L671.8,321.2L673.6,322.1L675.4,323.0L677.1,323.9L678.9,324.8L680.7,325.7L682.5,326.6L684.3,327.5L686.1,328.4L687.9,329.3L689.7,330.2L691.5,331.1L693.3,331.9L695.1,332.8L696.9,333.7L698.7,334.6L700.5,335.5L702.3,336.3L704.1,337.2L705.9,338.1L707.7,339.0L709.5,339.9L711.3,340.7L713.1,341.6L714.9,342.5L716.7,343.4L718.5,344.3L720.3,345.1L722.1,346.0L723.9,346.9L725.7,347.8L727.5,348.7L729.3,349.6L731.1,350.5L732.9,351.4L734.7,352.3L736.5,353.2L738.2,354.1L740.0,355.0L741.8,355.9L743.6,356.8L745.4,357.7L747.2,358.7L748.9,359.6L750.7,360.5L752.5,361.5L754.2,362.4L756.0,363.4L757.8,364.3L759.5,365.3L761.3,366.2L763.0,367.2L764.8,368.2L766.5,369.2L768.3,370.2L770.0,371.2L771.7,372.2L773.5,373.2L775.2,374.2L776.9,375.2L778.6,376.3L780.3,377.3L782.0,378.4L783.7,379.4L785.4,380.5L787.1,381.6L788.8,382.6L790.5,383.7L792.2,384.9L793.8,386.0L795.5,387.1L797.1,388.3L798.7,389.5L800.3,390.6L801.9,391.9L803.5,393.1L805.0,394.3L806.5,395.6L808.0,396.9L809.5,398.2L811.0,399.5L812.4,400.9L813.8,402.3L815.2,403.7L816.6,405.2L817.9,406.6L819.2,408.1L820.5,409.7L821.7,411.2L823.0,412.8L824.2,414.4L825.4,416.0L826.5,417.6L827.7,419.2L828.9,420.9L830.0,422.5L831.1,424.2L832.3,425.9L833.4,427.5L834.5,429.2L835.6,430.9L836.7,432.6L837.8,434.3L838.8,436.0L839.9,437.7L840.9,439.5L842.0,441.2L843.0,442.9L844.0,444.7L845.0,446.4L846.0,448.2L847.0,449.9L848.0,451.7L848.9,453.5L849.9,455.2L850.8,457.0L851.7,458.8L852.6,460.6L853.5,462.4L854.4,464.2L855.3,466.0L856.1,467.8L857.0,469.7L857.8,471.5L858.6,473.3L859.4,475.2L860.1,477.0L860.9,478.9L861.7,480.7L862.4,482.6L863.1,484.5L863.8,486.3L864.5,488.2L865.2,490.1L865.9,492.0L866.6,493.9L867.2,495.7L867.9,497.6L868.5,499.5L869.1,501.4L869.7,503.3L870.3,505.3L870.9,507.2L871.5,509.1L872.1,511.0L872.7,512.9L873.3,514.8L873.8,516.8L874.4,518.7L874.9,520.6L875.5,522.5L876.0,524.5L876.5,526.4L877.1,528.3L877.6,530.3L878.1,532.2L878.6,534.2L879.1,536.1L879.6,538.0L880.1,540.0L880.7,541.9L881.2,543.9L881.7,545.8L882.2,547.7L882.7,549.7L883.2,551.6L883.7,553.6L884.2,555.5L884.7,557.4L885.2,559.4L885.7,561.3L886.2,563.2L886.7,565.2L887.2,567.1L887.7,569.1L888.2,571.0L888.7,572.9L889.2,574.9L889.7,576.8L890.2,578.7L890.7,580.7L891.2,582.6L891.7,584.5L892.2,586.5L892.7,588.4L893.2,590.3L893.7,592.2L894.2,594.2L894.7,596.1L895.2,598.0L895.7,600.0L896.2,601.9L896.7,603.8L897.2,605.8L897.7,607.7L898.2,609.7L898.7,611.6L899.2,613.5L899.7,615.5L900.2,617.4L900.7,619.3L901.1,621.3L901.6,623.2L902.1,625.2L902.6,627.1L903.1,629.0L903.6,631.0L904.0,632.9L904.5,634.9L905.0,636.8L905.5,638.8L905.9,640.7L906.4,642.7L906.9,644.6L907.3,646.6L907.8,648.5L908.2,650.5L908.7,652.5L909.2,654.4L909.6,656.4L910.1,658.3L910.5,660.3L911.0,662.2L911.4,664.2L911.9,666.2L912.4,668.1L912.8,670.1L913.3,672.0L913.7,674.0L914.2,676.0L914.6,677.9L915.1,679.9L915.6,681.9L916.0,683.8L916.5,685.8L916.9,687.7L917.4,689.7L917.9,691.7L918.3,693.6L918.8,695.6L919.3,697.5L919.8,699.5L920.2,701.4L920.7,703.4L921.2,705.3L921.7,707.3L922.2,709.3L922.7,711.2L923.2,713.1L923.7,715.1L924.2,717.0L924.7,719.0L925.2,720.9L925.7,722.9L926.3,724.8L926.8,726.7L927.3,728.7L927.9,730.6L928.4,732.5L928.9,734.5L929.5,736.4L930.1,738.3L930.6,740.3L931.2,742.2L931.8,744.1L932.3,746.0L932.9,747.9L933.5,749.8L934.1,751.7L934.7,753.6L935.4,755.5L936.0,757.4L936.6,759.3L937.2,761.2L937.9,763.1L938.5,765.0L939.2,766.9L939.9,768.8L940.6,770.7L941.2,772.5L941.9,774.4L942.6,776.3L943.3,778.1L944.1,780.0L944.8,781.8L945.5,783.7L946.3,785.5L947.0,787.4L947.8,789.2L948.6,791.1L949.4,792.9L950.2,794.7L951.0,796.5L951.8,798.4L952.6,800.2L953.5,802.0L954.3,803.8L955.2,805.6L956.0,807.4L956.9,809.2L957.8,811.0L958.7,812.7L959.7,814.5L960.6,816.3L961.5,818.0L962.5,819.8L963.5,821.6L964.4,823.3L965.4,825.0L966.4,826.8L967.5,828.5L968.5,830.2L969.5,832.0L970.6,833.7L971.7,835.4L972.8,837.1L973.9,838.8L975.0,840.4L976.1,842.1L977.3,843.8L978.4,845.4L979.6,847.1L980.8,848.7L982.0,850.3L983.2,851.9L984.4,853.5L985.7,855.1L986.9,856.7L988.2,858.2L989.5,859.8L990.8,861.3L992.1,862.8L993.5,864.3L994.8,865.8L996.2,867.2L997.6,868.7L999.0,870.1L1000.4,871.5L1001.9,872.9L1003.3,874.3L1004.8,875.6L1006.3,877.0L1007.8,878.3L1009.3,879.6L1010.8,880.9L1012.4,882.1L1014.0,883.3L1015.6,884.5L1017.2,885.7L1018.8,886.9L1020.5,888.0L1022.1,889.1L1023.8,890.2L1025.5,891.3L1027.2,892.4L1028.9,893.4L1030.7,894.4L1032.4,895.4L1034.2,896.4L1035.9,897.4L1037.7,898.3L1039.5,899.3L1041.3,900.2L1043.1,901.1L1044.9,902.0L1046.7,902.9L1048.5,903.8L1050.3,904.7L1052.1,905.6L1053.9,906.4L1055.7,907.3L1057.5,908.2L1059.4,909.0L1061.2,909.8L1063.0,910.7L1064.8,911.5L1066.6,912.4L1068.4,913.2L1070.2,914.1L1072.1,914.9L1073.9,915.8L1075.7,916.6L1077.5,917.5L1079.3,918.3L1081.1,919.2L1082.9,920.1L1084.7,921.0L1086.5,921.8L1088.3,922.7L1090.1,923.6L1091.9,924.6L1093.7,925.5L1095.5,926.4L1097.3,927.3L1099.0,928.3L1100.8,929.2L1102.6,930.2L1104.3,931.1L1106.1,932.1L1107.9,933.1L1109.6,934.1L1111.4,935.1L1113.1,936.1L1114.8,937.1L1116.6,938.1L1118.3,939.1L1120.0,940.2L1121.7,941.2L1123.4,942.3L1125.1,943.3L1126.8,944.4L1128.5,945.5L1130.2,946.5L1131.9,947.6L1133.5,948.7L1135.2,949.8L1136.9,950.9L1138.6,952.0L1140.2,953.1L1141.9,954.2L1143.6,955.3L1145.2,956.4L1146.9,957.5L1148.5,958.6L1150.2,959.7L1151.8,960.9L1153.5,962.0L1155.1,963.1L1156.8,964.2L1158.5,965.3L1160.1,966.4L1161.8,967.6L1163.4,968.7L1165.1,969.8L1166.7,970.9L1168.4,972.0L1170.1,973.1L1171.7,974.2L1173.4,975.3L1175.1,976.4L1176.7,977.5L1178.4,978.6L1180.1,979.7L1181.8,980.7L1183.5,981.8L1185.2,982.9L1186.9,983.9L1188.6,985.0L1190.3,986.0L1192.0,987.1L1193.7,988.1L1195.4,989.1L1197.2,990.1L1198.9,991.1L1200.6,992.1L1202.4,993.1L1204.1,994.1L1205.9,995.0L1207.7,996.0L1209.5,997.0L1211.2,997.9L1213.0,998.8L1214.8,999.7L1216.7,1000.6L1218.5,1001.5L1220.3,1002.4L1222.2,1003.2L1224.0,1004.1L1225.9,1004.9L1227.7,1005.7L1229.6,1006.5L1231.5,1007.3L1233.4,1008.1L1235.3,1008.8L1237.2,1009.5L1239.1,1010.2L1241.0,1010.8L1242.9,1011.5L1244.9,1012.1L1246.8,1012.7L1248.7,1013.2L1250.7,1013.8L1252.6,1014.2L1254.6,1014.7L1256.5,1015.1L1258.5,1015.5L1260.4,1015.9L1262.4,1016.2L1264.4,1016.5L1266.3,1016.7L1268.3,1016.9L1270.3,1017.1L1272.2,1017.2L1274.2,1017.3L1276.2,1017.3L1278.1,1017.3L1280.1,1017.2L1282.1,1017.1L1284.0,1017.0L1286.0,1016.8L1287.9,1016.5L1289.9,1016.3L1291.9,1016.0L1293.8,1015.6L1295.8,1015.2L1297.7,1014.8L1299.6,1014.3L1301.6,1013.8L1303.5,1013.3L1305.4,1012.7L1307.3,1012.1L1309.3,1011.5L1311.2,1010.9L1313.1,1010.2L1315.0,1009.5L1316.8,1008.7L1318.7,1007.9L1320.6,1007.1L1322.4,1006.3L1324.3,1005.5L1326.1,1004.6L1328.0,1003.7L1329.8,1002.8L1331.6,1001.8L1333.4,1000.9L1335.2,999.9L1337.0,998.9L1338.7,997.9L1340.5,996.8L1342.2,995.8L1343.9,994.7L1345.7,993.6L1347.4,992.5L1349.0,991.4L1350.7,990.3L1352.4,989.2L1354.0,988.0L1355.7,986.9L1357.3,985.7L1358.9,984.5L1360.5,983.4L1362.1,982.2L1363.7,981.0L1365.3,979.8L1366.9,978.6L1368.5,977.4L1370.1,976.1L1371.6,974.9L1373.2,973.7L1374.8,972.5L1376.3,971.2L1377.9,970.0L1379.5,968.8L1381.0,967.5L1382.6,966.3L1384.2,965.1L1385.7,963.8L1387.3,962.6L1388.9,961.4L1390.5,960.2L1392.0,958.9L1393.6,957.7L1395.2,956.5L1396.8,955.3L1398.4,954.1L1400.1,952.9L1401.7,951.8L1403.3,950.6L1405.0,949.4L1406.6,948.3L1408.3,947.1L1410.0,946.0" stroke="#e3131b" stroke-width="7.5"/>
<path d="M105.5,263.0L107.6,263.6L109.6,264.1L111.7,264.6L113.7,265.0L115.7,265.4L117.8,265.7L119.8,266.0L121.8,266.2L123.9,266.4L125.9,266.5L127.9,266.6L129.9,266.6L131.9,266.6L133.9,266.6L135.9,266.5L137.9,266.3L139.9,266.2L141.9,266.0L143.9,265.7L145.9,265.4L147.8,265.1L149.8,264.7L151.8,264.4L153.7,263.9L155.7,263.5L157.6,263.0L159.6,262.5L161.5,262.0L163.4,261.4L165.4,260.8L167.3,260.2L169.2,259.6L171.1,259.0L173.0,258.3L174.9,257.6L176.8,257.0L178.7,256.3L180.6,255.6L182.5,254.9L184.4,254.2L186.3,253.5L188.2,252.9L190.1,252.3L192.0,251.7L194.0,251.2L195.9,250.7L197.8,250.2L199.8,249.8L201.7,249.5L203.7,249.2L205.7,248.9L207.7,248.7L209.6,248.5L211.6,248.3L213.6,248.1L215.6,248.0L217.6,247.8L219.6,247.7L221.6,247.5L223.7,247.4L225.7,247.2L227.7,247.1L229.7,246.9L231.7,246.6L233.6,246.4L235.6,246.1L237.6,245.8L239.6,245.5L241.6,245.2L243.6,244.8L245.5,244.5L247.5,244.1L249.5,243.7L251.5,243.2L253.4,242.8L255.4,242.3L257.4,241.8L259.3,241.4L261.3,240.9L263.2,240.3L265.2,239.8L267.1,239.3L269.1,238.8L271.0,238.2L273.0,237.6L274.9,237.1L276.9,236.5L278.8,235.9L280.8,235.4L282.7,234.8L284.7,234.2L286.6,233.6L288.6,233.0L290.5,232.4L292.5,231.9L294.4,231.3L296.4,230.7L298.3,230.1L300.3,229.5L302.2,229.0L304.2,228.4L306.1,227.9L308.1,227.3L310.0,226.8L312.0,226.3L313.9,225.8L315.9,225.3L317.9,224.9L319.8,224.4L321.8,224.1L323.8,223.7L325.7,223.3L327.7,223.0L329.7,222.8L331.7,222.6L333.7,222.4L335.7,222.3L337.7,222.2L339.7,222.1L341.7,222.2L343.7,222.2L345.7,222.4L347.7,222.5L349.8,222.8L351.8,223.1L353.9,223.5L355.9,224.0L358.0,224.5" stroke="#e3131b" stroke-width="9.5"/>
</g>
<g stroke="#0a0a0a" stroke-width="9.5" fill="none">
<rect x="104.9" y="36.7" width="1308.1999999999998" height="1225.0"/>
<line x1="322.9" y1="1261.7" x2="322.9" y2="1235.7" stroke-width="8"/><line x1="541.0" y1="1261.7" x2="541.0" y2="1235.7" stroke-width="8"/><line x1="759.0" y1="1261.7" x2="759.0" y2="1235.7" stroke-width="8"/><line x1="977.0" y1="1261.7" x2="977.0" y2="1235.7" stroke-width="8"/><line x1="1195.1" y1="1261.7" x2="1195.1" y2="1235.7" stroke-width="8"/><line x1="213.9" y1="1261.7" x2="213.9" y2="1248.7" stroke-width="8"/><line x1="431.9" y1="1261.7" x2="431.9" y2="1248.7" stroke-width="8"/><line x1="650.0" y1="1261.7" x2="650.0" y2="1248.7" stroke-width="8"/><line x1="868.0" y1="1261.7" x2="868.0" y2="1248.7" stroke-width="8"/><line x1="1086.0" y1="1261.7" x2="1086.0" y2="1248.7" stroke-width="8"/><line x1="1304.1" y1="1261.7" x2="1304.1" y2="1248.7" stroke-width="8"/>
</g>
<g font-size="73.5"><text x="104.9" y="1336.5" text-anchor="middle">200</text><text x="322.9" y="1336.5" text-anchor="middle">300</text><text x="541.0" y="1336.5" text-anchor="middle">400</text><text x="759.0" y="1336.5" text-anchor="middle">500</text><text x="977.0" y="1336.5" text-anchor="middle">600</text><text x="1195.1" y="1336.5" text-anchor="middle">700</text><text x="1413.1" y="1336.5" text-anchor="middle">800</text></g>
<text x="758.5" y="1416.5" font-size="77.5" text-anchor="middle">Wavelength/nm</text>
<text transform="translate(66.8,622.0) rotate(-90)" font-size="77.3" text-anchor="middle">Absorbance/a.u.</text>
<g stroke-width="6.5" stroke-linecap="butt">
<line x1="712" y1="99.3" x2="852" y2="99.3" stroke="#0a0a0a" stroke-width="8"/>
<line x1="712" y1="194.6" x2="852" y2="194.6" stroke="#1d679c"/>
<line x1="712" y1="275.8" x2="852" y2="275.8" stroke="#e3131b"/>
</g>
<g font-size="65">
<text x="881" y="122">commercial <tspan dx="3">Fe</tspan><tspan font-size="44" dy="16" dx="1">2</tspan><tspan dy="-16" dx="1">O</tspan><tspan font-size="44" dy="16" dx="1">3</tspan></text>
<text x="881" y="218">P85</text>
<text x="881" y="299">P85-1</text>
</g>
</svg></div>
</body></html>
